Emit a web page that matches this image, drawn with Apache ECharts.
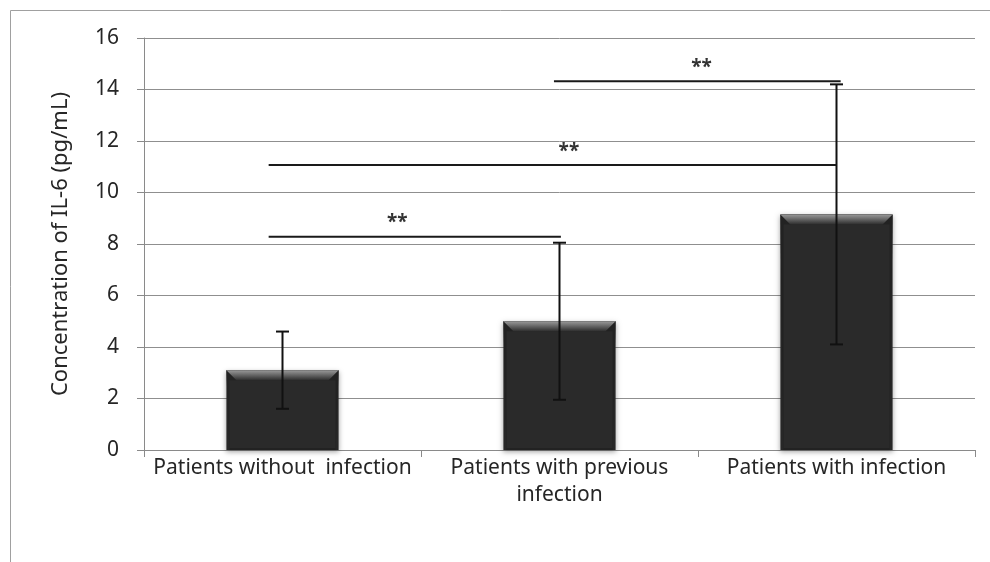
<!DOCTYPE html>
<html>
<head>
<meta charset="utf-8">
<script src="https://cdn.jsdelivr.net/npm/echarts@6/dist/echarts.min.js"></script>
<style>
  html, body { margin: 0; padding: 0; background: #ffffff; }
  #chart { width: 990px; height: 562px; }
</style>
</head>
<body>
<div id="chart"></div>
<script>
// IL-6 concentration by patient group (mean ± SD)
const categories = ['Patients without  infection', 'Patients with previous\ninfection', 'Patients with infection'];
const meanValues = [3.1, 5.0, 9.15];
const sdValues = [1.5, 3.05, 5.05];
const yTicks = [0, 2, 4, 6, 8, 10, 12, 14, 16];

// significance brackets (x in category units, y in pg/mL)
const bracketStart = [-0.05, -0.05, 0.98];
const bracketEnd = [1.005, 2.0, 2.015];
const bracketLevel = [8.28, 11.07, 14.32];
const starX = [0.414, 1.034, 1.513];
const starY = [8.85, 11.57, 14.84];
const starText = ['**', '**', '**'];

const FONT = '"Noto Sans", "Open Sans", sans-serif';
const TEXT = '#262626';

const barData = meanValues.map((v, i) => [i, v]);
const errData = meanValues.map((v, i) => [i, v - sdValues[i], v + sdValues[i]]);
const bracketData = bracketLevel.map((y, i) => [bracketStart[i], bracketEnd[i], y]);
const starData = starText.map((t, i) => [starX[i], starY[i], t]);

const chart = echarts.init(document.getElementById('chart'), null, { renderer: 'canvas' });

chart.setOption({
  backgroundColor: '#ffffff',
  animation: false,
  graphic: [
    { type: 'line', shape: { x1: 10.5, y1: 10.5, x2: 990, y2: 10.5 }, style: { stroke: '#a0a0a0', lineWidth: 1 } },
    { type: 'line', shape: { x1: 10.5, y1: 10.5, x2: 10.5, y2: 562 }, style: { stroke: '#a0a0a0', lineWidth: 1 } }
  ],
  grid: { left: 144, right: 15, top: 38, bottom: 112, containLabel: false },
  xAxis: [
    {
      type: 'category',
      data: categories,
      boundaryGap: true,
      axisLine: { show: true, onZero: false, lineStyle: { color: '#8a8a8a', width: 1 } },
      axisTick: { show: true, length: 7, lineStyle: { color: '#8a8a8a' } },
      axisLabel: { color: TEXT, fontFamily: FONT, fontSize: 21, lineHeight: 27, margin: 5, interval: 0 },
      splitLine: { show: false }
    },
    {
      type: 'value',
      min: -0.5,
      max: 2.5,
      show: false
    }
  ],
  yAxis: {
    type: 'value',
    min: yTicks[0],
    max: yTicks[yTicks.length - 1],
    interval: 2,
    name: 'Concentration of IL-6 (pg/mL)',
    nameLocation: 'middle',
    nameGap: 72,
    nameTextStyle: { color: TEXT, fontFamily: FONT, fontSize: 22 },
    axisLine: { show: true, onZero: false, lineStyle: { color: '#8a8a8a', width: 1 } },
    axisTick: { show: true, length: 7, lineStyle: { color: '#8a8a8a' } },
    axisLabel: { color: TEXT, fontFamily: FONT, fontSize: 21, margin: 25 },
    splitLine: { show: true, lineStyle: { color: '#8f8f8f', width: 1 } }
  },
  series: [
    {
      // bevelled dark bars
      type: 'custom',
      xAxisIndex: 0,
      data: barData,
      encode: { x: 0, y: 1 },
      renderItem: function (params, api) {
        const x = api.value(0);
        const v = api.value(1);
        const base = api.coord([x, 0]);
        const top = api.coord([x, v]);
        const bw = api.size([1, 0])[0] * 0.405;
        const l = base[0] - bw / 2;
        const r = base[0] + bw / 2;
        const t = top[1];
        const b = base[1];
        const bevel = 10;
        const side = 3;
        return {
          type: 'group',
          children: [
            {
              type: 'rect',
              shape: { x: l, y: t, width: bw, height: b - t },
              style: { fill: '#272727', shadowBlur: 5, shadowColor: 'rgba(0,0,0,0.35)', shadowOffsetY: 2 }
            },
            {
              type: 'polygon',
              shape: { points: [[l, t], [r, t], [r - side, b], [l + side, b]] },
              style: { fill: '#222222' }
            },
            {
              type: 'polygon',
              shape: { points: [[l + side, t + bevel], [r - side, t + bevel], [r - side, b - 2], [l + side, b - 2]] },
              style: { fill: '#2a2a2a' }
            },
            {
              type: 'polygon',
              shape: { points: [[l, t], [r, t], [r - bevel, t + bevel], [l + bevel, t + bevel]] },
              style: {
                fill: new echarts.graphic.LinearGradient(0, 0, 0, 1, [
                  { offset: 0, color: '#9a9a9a' },
                  { offset: 0.45, color: '#6a6a6a' },
                  { offset: 1, color: '#2e2e2e' }
                ])
              }
            }
          ]
        };
      },
      z: 2
    },
    {
      // standard deviation whiskers
      type: 'custom',
      xAxisIndex: 0,
      data: errData,
      encode: { x: 0, y: [1, 2] },
      renderItem: function (params, api) {
        const x = api.value(0);
        const lo = api.coord([x, api.value(1)]);
        const hi = api.coord([x, api.value(2)]);
        const cap = 6.5;
        const st = { stroke: '#111111', lineWidth: 2 };
        return {
          type: 'group',
          children: [
            { type: 'line', shape: { x1: lo[0], y1: lo[1], x2: hi[0], y2: hi[1] }, style: st },
            { type: 'line', shape: { x1: lo[0] - cap, y1: lo[1], x2: lo[0] + cap, y2: lo[1] }, style: st },
            { type: 'line', shape: { x1: hi[0] - cap, y1: hi[1], x2: hi[0] + cap, y2: hi[1] }, style: st }
          ]
        };
      },
      z: 3
    },
    {
      // comparison brackets
      type: 'custom',
      xAxisIndex: 1,
      data: bracketData,
      encode: { x: [0, 1], y: 2 },
      renderItem: function (params, api) {
        const p0 = api.coord([api.value(0), api.value(2)]);
        const p1 = api.coord([api.value(1), api.value(2)]);
        return {
          type: 'line',
          shape: { x1: p0[0], y1: p0[1], x2: p1[0], y2: p1[1] },
          style: { stroke: '#1a1a1a', lineWidth: 2 }
        };
      },
      z: 3
    },
    {
      // significance markers
      type: 'custom',
      xAxisIndex: 1,
      data: starData,
      encode: { x: 0, y: 1 },
      renderItem: function (params, api) {
        const p = api.coord([api.value(0), api.value(1)]);
        return {
          type: 'text',
          x: p[0],
          y: p[1],
          style: {
            text: starText[params.dataIndex],
            fill: '#333333',
            font: 'bold 19px ' + FONT,
            align: 'center',
            verticalAlign: 'middle'
          }
        };
      },
      z: 3
    }
  ]
});
</script>
</body>
</html>
